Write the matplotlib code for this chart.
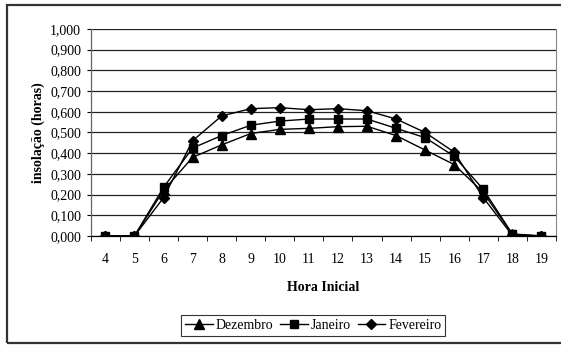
import numpy as np
import matplotlib.pyplot as plt
from matplotlib.patches import Rectangle

plt.rcParams['font.family'] = ['Liberation Serif', 'DejaVu Serif']

horas = [4, 5, 6, 7, 8, 9, 10, 11, 12, 13, 14, 15, 16, 17, 18, 19]
dezembro = [0.0, 0.0, 0.220, 0.380, 0.440, 0.495, 0.515, 0.520, 0.528, 0.530,
            0.485, 0.415, 0.345, 0.210, 0.008, 0.0]
janeiro = [0.0, 0.0, 0.235, 0.425, 0.485, 0.535, 0.555, 0.565, 0.565, 0.565,
           0.520, 0.475, 0.385, 0.225, 0.010, 0.0]
fevereiro = [0.0, 0.0, 0.185, 0.460, 0.580, 0.615, 0.620, 0.610, 0.615, 0.605,
             0.565, 0.500, 0.405, 0.185, 0.003, 0.0]
yticks = np.arange(0, 1.01, 0.1)

fig = plt.figure(figsize=(5.61, 3.45), dpi=100)
ax = fig.add_axes([0.162, 0.316, 0.829, 0.600])

x = np.arange(len(horas))
ax.plot(x, dezembro, color='black', lw=1, marker='^', ms=6.5, label='Dezembro')
ax.plot(x, janeiro, color='black', lw=1, marker='s', ms=5.5, label='Janeiro')
ax.plot(x, fevereiro, color='black', lw=1, marker='D', ms=5, label='Fevereiro')

ax.set_xlim(-0.5, len(horas) - 0.5)
ax.set_ylim(0, 1.0)
ax.set_yticks(yticks)
ax.set_yticklabels([f'{v:.3f}'.replace('.', ',') for v in yticks], fontsize=10)
ax.set_xticks(x)
ax.set_xticklabels([str(h) for h in horas], fontsize=10)
ax.set_xticks(np.arange(-0.5, len(horas), 1), minor=True)
ax.tick_params(axis='x', which='major', length=0, pad=12)
ax.tick_params(axis='x', which='minor', length=3.5, direction='out', color='black')
ax.tick_params(axis='y', length=3, direction='out', color='black', pad=4)
ax.yaxis.grid(True, color='#222222', lw=0.9)
ax.set_axisbelow(True)
ax.spines['top'].set_visible(False)
ax.spines['right'].set_color('#888888')
ax.spines['right'].set_linewidth(0.8)
ax.spines['left'].set_color('#666666')
ax.spines['left'].set_linewidth(0.9)
ax.spines['bottom'].set_color('black')
ax.spines['bottom'].set_linewidth(0.9)

ax.set_xlabel('Hora Inicial', fontsize=10, fontweight='bold', labelpad=11)
ax.set_ylabel('insolação (horas)', fontsize=10, fontweight='bold', labelpad=4)

leg = fig.legend(loc='center', bbox_to_anchor=(0.558, 0.057), ncol=3, fontsize=10,
                 frameon=True, fancybox=False, edgecolor='black', handlelength=2.0,
                 handletextpad=0.2, columnspacing=0.5, borderpad=0.3)
leg.get_frame().set_linewidth(0.8)

# outer chart border, open on the right side
fig.patches.append(Rectangle((0.0125, 0.007), 1.0, 0.978, transform=fig.transFigure,
                             fill=False, edgecolor='#333333', lw=1.6))

fig.savefig('out.png', dpi=100)
